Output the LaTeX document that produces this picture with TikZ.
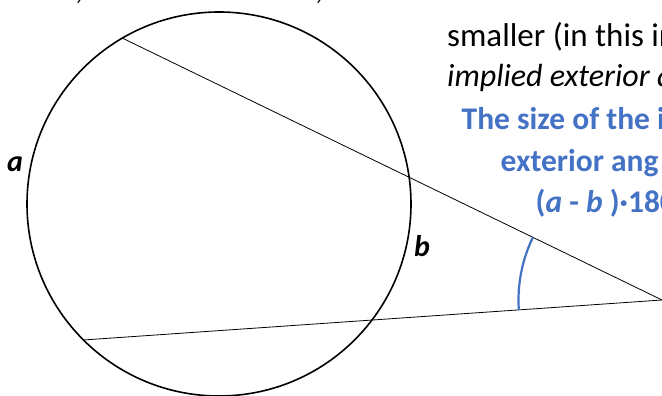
\documentclass[tikz,border=0pt]{standalone}
\usepackage{fontspec}
\setmainfont{Carlito}
\definecolor{accent}{HTML}{4472C4}
\begin{document}
\begin{tikzpicture}[x=1pt,y=1pt,
  txt/.style={anchor=base west,inner sep=0pt,font=\fontsize{33}{36}\selectfont},
  itxt/.style={txt,font=\fontsize{32}{36}\selectfont\itshape},
  btxt/.style={txt,text=accent,font=\fontsize{31.5}{36}\selectfont\bfseries},
  lbl/.style={anchor=base west,inner sep=0pt,font=\fontsize{30}{32}\selectfont\bfseries\itshape},
  secant/.style={draw=black,line width=0.8pt},
  anglearc/.style={draw=accent,line width=2.2pt}]
\useasboundingbox (0,0) rectangle (662,396);
\clip (0,0) rectangle (662,396);
% circle
\node[circle,draw,line width=1.6pt,minimum size=384pt,inner sep=0pt] (circ) at (219,192) {};
% points
\coordinate (P) at (662,96);
\coordinate (A) at (122.7,357.7);
\coordinate (B) at (83.3,56);
\draw[secant] (A) -- (P);
\draw[secant] (B) -- (P);
\draw[anglearc] ([shift={(154.12:143.5pt)}]P) arc[start angle=154.12,end angle=183.95,radius=143.5pt];
% labels
\node[lbl] (la) at (7,224) {a};
\node[lbl] (lb) at (414,139.5) {b};
% cut-off text at top
\node[txt] (c1) at (75,396) {,};
\node[txt] (c2) at (315,396) {,};
% right text
\node[txt] (t1) at (447,349.3) {smaller (in this in};
\node[itxt] (t2) at (447,309.3) {implied exterior a};
\node[btxt] (t3) at (461.5,266.7) {The size of the i};
\node[btxt] (t4) at (500.5,224.3) {exterior ang};
\node[btxt] (t5) at (535.5,183) {(\textit{a} - \textit{b} )·180};
\end{tikzpicture}
\end{document}
